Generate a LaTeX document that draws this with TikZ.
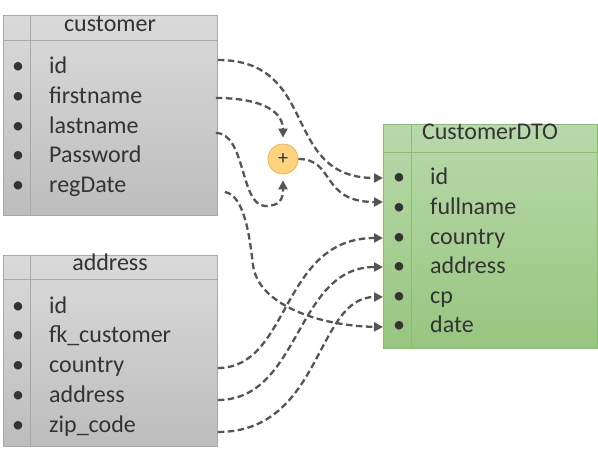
\documentclass[tikz,border=0pt]{standalone}
\usepackage{fontspec}
\setmainfont{Carlito}
\usetikzlibrary{arrows.meta,calc}
\definecolor{txt}{HTML}{333333}
\definecolor{grayT}{HTML}{DADADA}
\definecolor{grayB}{HTML}{BDBDBD}
\definecolor{grayL}{HTML}{A8A8A8}
\definecolor{greenT}{HTML}{B8D9AB}
\definecolor{greenB}{HTML}{97C67F}
\definecolor{greenL}{HTML}{88C06A}
\definecolor{plusF}{HTML}{FFD37F}
\definecolor{plusL}{HTML}{F2B63C}
\definecolor{arrowc}{HTML}{555555}
\begin{document}
\begin{tikzpicture}[x=1pt,y=-1pt,
  font=\fontsize{24}{28}\selectfont,
  graytab/.style={draw=grayL, line width=0.8pt, top color=grayT, bottom color=grayB, anchor=north west, inner sep=0pt},
  greentab/.style={draw=greenL, line width=0.8pt, top color=greenT, bottom color=greenB, anchor=north west, inner sep=0pt},
  grayline/.style={draw=grayL, line width=0.8pt},
  greenline/.style={draw=greenL, line width=0.8pt},
  rowtxt/.style={text=txt, anchor=base west, inner sep=0pt},
  headtxt/.style={text=txt, anchor=base, inner sep=0pt},
  bul/.style={text=txt, anchor=base, inner sep=0pt},
  conn/.style={draw=arrowc, line width=2.3pt, dash pattern=on 6.5pt off 3.5pt, -{Triangle[length=9pt,width=9pt]}},
  pluscirc/.style={circle, draw=plusL, fill=plusF, line width=0.8pt, minimum size=30pt, inner sep=0pt, text=txt, font=\fontsize{20}{24}\selectfont}
]
\useasboundingbox (0,0) rectangle (598,454);

% ---------- customer table ----------
\node[graytab, minimum width=214pt, minimum height=200pt] (cust) at (3,15) {};
\draw[grayline] ($(cust.north west)+(27,0)$) -- ($(cust.south west)+(27,0)$);
\draw[grayline] ($(cust.north west)+(0,25.5)$) -- ($(cust.north east)+(0,25.5)$);
\node[headtxt] (custh) at (110,32) {customer};
\node[bul] (cb1) at (18,74) {•};   \node[rowtxt] (c1) at (49,74) {id};
\node[bul] (cb2) at (18,104) {•};  \node[rowtxt] (c2) at (49,104) {firstname};
\node[bul] (cb3) at (18,133.5) {•};\node[rowtxt] (c3) at (49,133.5) {lastname};
\node[bul] (cb4) at (18,163) {•};  \node[rowtxt] (c4) at (49,163) {Password};
\node[bul] (cb5) at (18,193) {•};  \node[rowtxt] (c5) at (49,193) {regDate};

% ---------- address table ----------
\node[graytab, minimum width=214pt, minimum height=191pt] (addr) at (3,255) {};
\draw[grayline] ($(addr.north west)+(27,0)$) -- ($(addr.south west)+(27,0)$);
\draw[grayline] ($(addr.north west)+(0,24.5)$) -- ($(addr.north east)+(0,24.5)$);
\node[headtxt] (addrh) at (110,271) {address};
\node[bul] (ab1) at (18,314) {•}; \node[rowtxt] (a1) at (49,314) {id};
\node[bul] (ab2) at (18,343) {•}; \node[rowtxt] (a2) at (49,343) {fk\_customer};
\node[bul] (ab3) at (18,373) {•}; \node[rowtxt] (a3) at (49,373) {country};
\node[bul] (ab4) at (18,403) {•}; \node[rowtxt] (a4) at (49,403) {address};
\node[bul] (ab5) at (18,433) {•}; \node[rowtxt] (a5) at (49,433) {zip\_code};

% ---------- CustomerDTO table ----------
\node[greentab, minimum width=214pt, minimum height=224pt] (dto) at (383,124) {};
\draw[greenline] ($(dto.north west)+(28,0)$) -- ($(dto.south west)+(28,0)$);
\draw[greenline] ($(dto.north west)+(0,28)$) -- ($(dto.north east)+(0,28)$);
\node[headtxt] (dtoh) at (490,140) {CustomerDTO};
\node[bul] (db1) at (399,185) {•}; \node[rowtxt] (d1) at (430,185) {id};
\node[bul] (db2) at (399,215) {•}; \node[rowtxt] (d2) at (430,215) {fullname};
\node[bul] (db3) at (399,245) {•}; \node[rowtxt] (d3) at (430,245) {country};
\node[bul] (db4) at (399,274) {•}; \node[rowtxt] (d4) at (430,274) {address};
\node[bul] (db5) at (399,304) {•}; \node[rowtxt] (d5) at (430,304) {cp};
\node[bul] (db6) at (399,333) {•}; \node[rowtxt] (d6) at (430,333) {date};

% ---------- plus ----------
\node[pluscirc] (plus) at (283,159) {+};

% ---------- anchor points ----------
\coordinate (s1) at ($(cust.north east)+(0,45)$);
\coordinate (s2) at ($(cust.north east)+(-2,83)$);
\coordinate (s3) at ($(cust.north east)+(-2,118)$);
\coordinate (s5) at ($(cust.north east)+(7,177)$);
\coordinate (s6) at ($(addr.north east)+(0,113)$);
\coordinate (s7) at ($(addr.north east)+(0,145)$);
\coordinate (s8) at ($(addr.north east)+(0,177)$);
\coordinate (t1) at ($(dto.north west)+(0,54)$);
\coordinate (t2) at ($(dto.north west)+(0,78)$);
\coordinate (t3) at ($(dto.north west)+(0,114)$);
\coordinate (t4) at ($(dto.north west)+(0,143)$);
\coordinate (t5) at ($(dto.north west)+(0,173)$);
\coordinate (t6) at ($(dto.north west)+(0,203)$);

% ---------- connectors ----------
\draw[conn] (s1) .. controls +(103,0) and +(-103,0) .. (t1);
\draw[conn, shorten >=6pt] (s2) .. controls +(50,0) and +(0,-30) .. (plus.north);
\draw[conn, shorten >=6pt] (s3) .. controls +(30,0) and (240,205) .. (265,206)
   .. controls (280,206) and ($(plus.south)+(0,25)$) .. (plus.south);
\draw[conn] (plus.east) .. controls +(37,0) and +(-63,0) .. (t2);
\draw[conn] (s5) .. controls (245,195) and (250,240) .. (253,265)
   .. controls (258,305) and (320,326) .. (t6);
\draw[conn] (s6) .. controls +(73,0) and +(-103,0) .. (t3);
\draw[conn] (s7) .. controls +(83,0) and +(-88,0) .. (t4);
\draw[conn] (s8) .. controls +(105,0) and +(-68,0) .. (t5);
\end{tikzpicture}
\end{document}
